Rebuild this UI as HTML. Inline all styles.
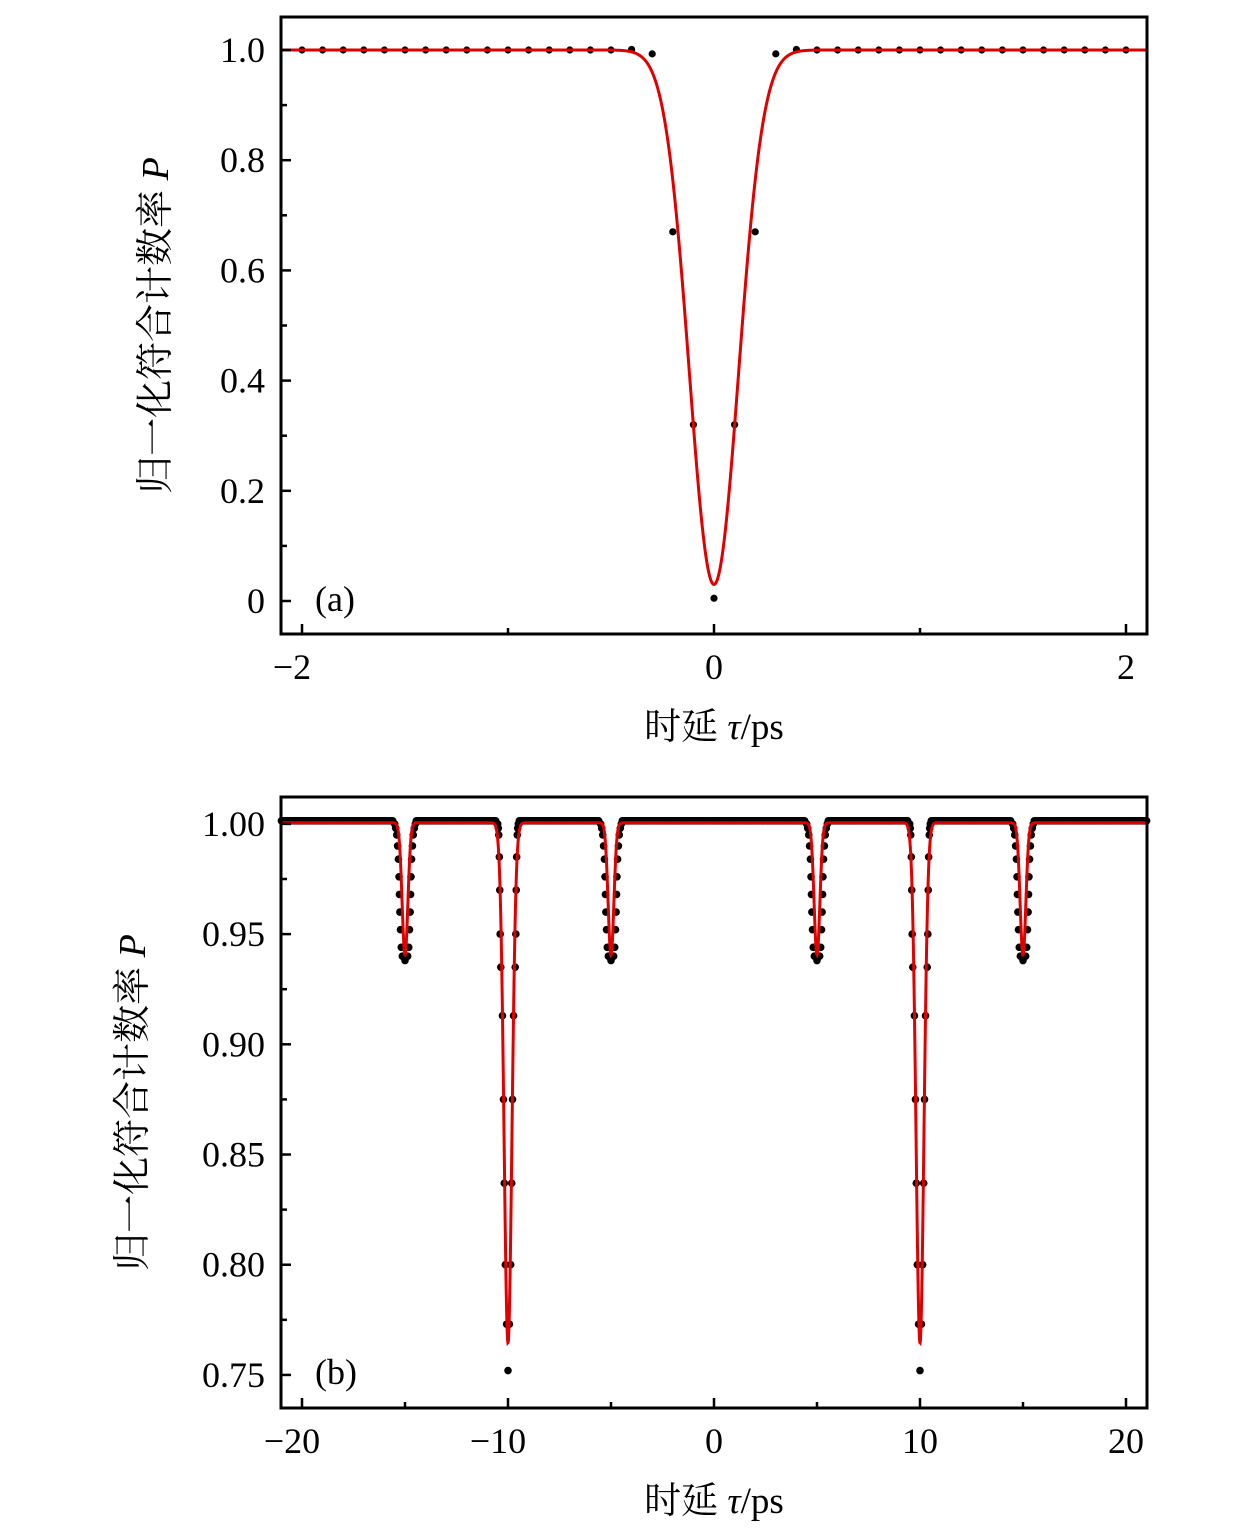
<!DOCTYPE html>
<html><head><meta charset="utf-8">
<style>
body{margin:0;background:#fff;}
svg text{font-family:"Liberation Serif","Noto Serif CJK SC",serif;fill:#000;}
</style></head>
<body>
<svg id="c" width="1260" height="1530" xmlns="http://www.w3.org/2000/svg"></svg>
<script>
// ---- Panel (a) data ----
const aX = [-2,-1.9,-1.8,-1.7,-1.6,-1.5,-1.4,-1.3,-1.2,-1.1,-1.0,-0.9,-0.8,-0.7,-0.6,-0.5,-0.4,-0.3,-0.2,-0.1,0,0.1,0.2,0.3,0.4,0.5,0.6,0.7,0.8,0.9,1.0,1.1,1.2,1.3,1.4,1.5,1.6,1.7,1.8,1.9,2.0];
const aY = [1,1,1,1,1,1,1,1,1,1,1,1,1,1,1,1,1.001,0.993,0.67,0.32,0.005,0.32,0.67,0.993,1.001,1,1,1,1,1,1,1,1,1,1,1,1,1,1,1,1];
const aFit = [0.97, 0.119]; // depth, sigma
const aYTicks = [0,0.2,0.4,0.6,0.8,1.0];
const aYTickLabels = ["0","0.2","0.4","0.6","0.8","1.0"];
const aXTicks = [-2,0,2];
const aXTickLabels = ["−2","0","2"];
// ---- Panel (b) data ----
const bCenters = [-15,-10,-5,5,10,15];
const bDepthType = ["s","l","s","s","l","s"];
const bSmallOff = [0.5,0.45,0.4,0.36,0.32,0.29,0.27,0.25,0.22,0.18,0.13,0];
const bSmallVal = [1.0,0.998,0.995,0.99,0.984,0.976,0.968,0.96,0.952,0.944,0.94,0.938];
const bLargeOff = [0.5,0.47,0.45,0.42,0.4,0.38,0.35,0.27,0.22,0.18,0.13,0.07,0];
const bLargeVal = [1.0,0.998,0.995,0.985,0.97,0.95,0.935,0.913,0.875,0.837,0.80,0.773,0.752];
const bFitSmall = [0.06, 0.14];
const bFitLarge = [0.236, 0.19];
const bYTicks = [0.75,0.80,0.85,0.90,0.95,1.00];
const bYTickLabels = ["0.75","0.80","0.85","0.90","0.95","1.00"];
const bXTicks = [-20,-10,0,10,20];
const bXTickLabels = ["−20","−10","0","10","20"];

const svg = document.getElementById('c');
const NS = 'http://www.w3.org/2000/svg';
function mk(tag, attrs, parent){const e=document.createElementNS(NS,tag);for(const k in attrs)e.setAttribute(k,attrs[k]);(parent||svg).appendChild(e);return e;}

function panel(cfg){
  const g = mk('g',{});
  
  
  const sx = v => cfg.L + (v - cfg.x0)/(cfg.x1 - cfg.x0)*(cfg.R - cfg.L);
  const sy = v => cfg.B - (v - cfg.y0)/(cfg.y1 - cfg.y0)*(cfg.B - cfg.T);
  let d = '';
  const N = 3000;
  for(let i=0;i<=N;i++){const x = cfg.x0 + (cfg.x1-cfg.x0)*i/N; d += (i?'L':'M')+sx(x).toFixed(2)+','+sy(cfg.fit(x)).toFixed(2);}
  const pts = cfg.points();
  pts.forEach(p=>{
    const c = mk('circle',{cx:sx(p[0]),cy:sy(p[1]),r:cfg.r,fill:'#000'},g);
    
    
  });
  const line = mk('path',{d:d,fill:'none',stroke:'#e00000','stroke-width':3},g);
  
  
  const fr = mk('rect',{x:cfg.L,y:cfg.T,width:cfg.R-cfg.L,height:cfg.B-cfg.T,fill:'none',stroke:'#000','stroke-width':3},g);
  
  
  cfg.yTicks.forEach((v,i)=>{
    mk('line',{x1:cfg.L,x2:cfg.L+10,y1:sy(v),y2:sy(v),stroke:'#000','stroke-width':2.5},g);
    const t = mk('text',{x:cfg.L-16,y:sy(v)+12,'text-anchor':'end','font-size':36},g);
    t.textContent = cfg.yTickLabels[i];
    
    
    if(i<cfg.yTicks.length-1){const m=(v+cfg.yTicks[i+1])/2;mk('line',{x1:cfg.L,x2:cfg.L+6,y1:sy(m),y2:sy(m),stroke:'#000','stroke-width':2.5},g);}
  });
  cfg.xTicks.forEach((v,i)=>{
    mk('line',{x1:sx(v),x2:sx(v),y1:cfg.B,y2:cfg.B-10,stroke:'#000','stroke-width':2.5},g);
    const t = mk('text',{x:sx(v)+(cfg.xTickLabels[i].startsWith('−')?-10:0),y:cfg.B+45,'text-anchor':'middle','font-size':36},g);
    t.textContent = cfg.xTickLabels[i];
    
    
    if(i<cfg.xTicks.length-1){const m=(v+cfg.xTicks[i+1])/2;mk('line',{x1:sx(m),x2:sx(m),y1:cfg.B,y2:cfg.B-6,stroke:'#000','stroke-width':2.5},g);}
  });
  const lab = mk('text',{x:cfg.L+34,y:cfg.labY,'font-size':36},g);
  lab.textContent = cfg.label;
  
  
  const xt = mk('text',{x:714,y:cfg.B+105,'text-anchor':'middle','font-size':37},g);
  xt.innerHTML = '时延 <tspan font-style="italic">τ</tspan>/ps';
  
  
  const yt = mk('text',{x:0,y:0,'text-anchor':'middle','font-size':38,transform:'translate('+cfg.yTitleX+','+((cfg.T+cfg.B)/2)+') rotate(-90)'},g);
  yt.innerHTML = '归一化符合计数率 <tspan font-style="italic">P</tspan>';
  
  
}

panel({name:'panel-a',L:281,R:1147,T:17,B:634,x0:-2.102,x1:2.102,y0:-0.0599,y1:1.0599,r:3.6,
  fit:x=>1-aFit[0]*Math.exp(-x*x/(2*aFit[1]*aFit[1])),
  points:()=>aX.map((x,i)=>[x,aY[i]]),
  yTicks:aYTicks,yTickLabels:aYTickLabels,xTicks:aXTicks,xTickLabels:aXTickLabels,
  label:'(a)',labY:611,yTitleX:168});

panel({name:'panel-b',L:281,R:1147,T:797,B:1408,x0:-21.02,x1:21.02,y0:0.735,y1:1.0122,r:3.8,
  fit:x=>{let v=1.0005;bCenters.forEach((c,i)=>{const f=bDepthType[i]==='l'?bFitLarge:bFitSmall;v-=f[0]*Math.exp(-(x-c)*(x-c)/(2*f[1]*f[1]));});return v;},
  points:()=>{
    const p=[];
    for(let x=-21;x<=21.001;x+=0.05){let near=bCenters.some(c=>Math.abs(x-c)<0.55);if(!near)p.push([x,1.0014]);}
    bCenters.forEach((c,i)=>{
      const off = bDepthType[i]==='l'?bLargeOff:bSmallOff;
      const val = bDepthType[i]==='l'?bLargeVal:bSmallVal;
      off.forEach((o,j)=>{p.push([c-o,val[j]]);if(o>0)p.push([c+o,val[j]]);});
    });
    return p;},
  yTicks:bYTicks,yTickLabels:bYTickLabels,xTicks:bXTicks,xTickLabels:bXTickLabels,
  label:'(b)',labY:1384,yTitleX:145});
</script>
</body></html>
